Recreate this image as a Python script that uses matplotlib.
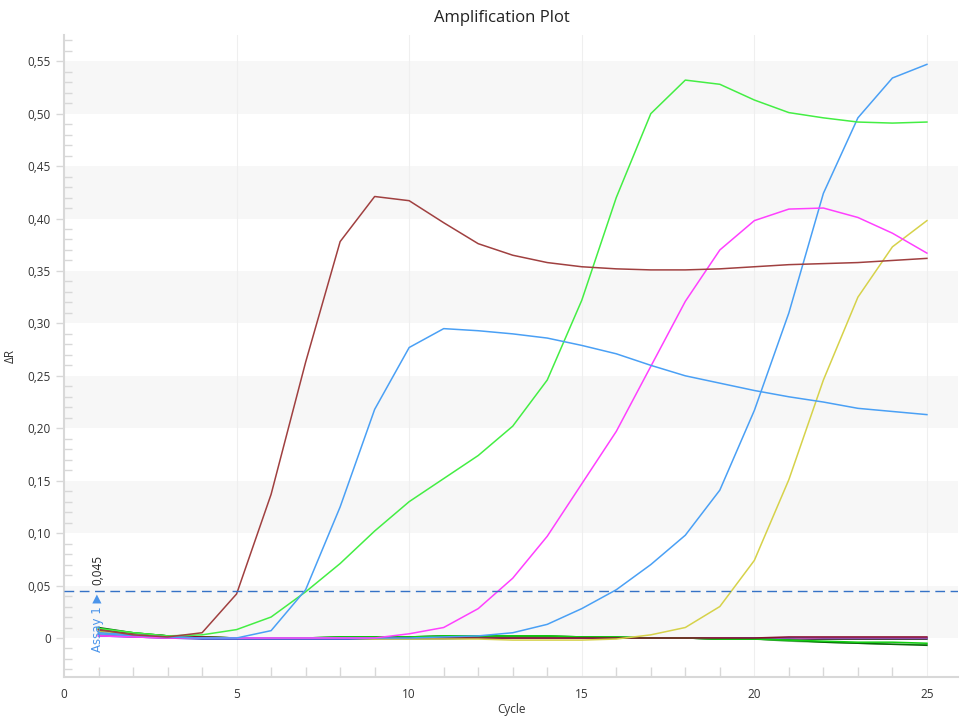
import matplotlib
matplotlib.use("Agg")
import matplotlib.pyplot as plt
from matplotlib.ticker import MultipleLocator, FuncFormatter

plt.rcParams['font.family'] = ['Open Sans', 'DejaVu Sans']

cycles = list(range(1, 26))

brown = [0.008, 0.003, 0.001, 0.005, 0.042, 0.137, 0.263, 0.378, 0.421, 0.417, 0.396, 0.376, 0.365,
         0.358, 0.354, 0.352, 0.351, 0.351, 0.352, 0.354, 0.356, 0.357, 0.358, 0.360, 0.362]
blue_early = [0.005, 0.003, 0.001, 0.000, 0.000, 0.007, 0.046, 0.125, 0.218, 0.277, 0.295, 0.293, 0.290,
              0.286, 0.279, 0.271, 0.260, 0.250, 0.243, 0.236, 0.230, 0.225, 0.219, 0.216, 0.213]
green = [0.009, 0.005, 0.002, 0.003, 0.008, 0.020, 0.044, 0.071, 0.102, 0.130, 0.152, 0.174, 0.202,
         0.246, 0.322, 0.420, 0.500, 0.532, 0.528, 0.513, 0.501, 0.496, 0.492, 0.491, 0.492]
magenta = [0.002, 0.001, 0.000, 0.000, 0.000, 0.000, 0.000, 0.000, 0.000, 0.004, 0.010, 0.028, 0.057,
           0.097, 0.147, 0.197, 0.259, 0.321, 0.370, 0.398, 0.409, 0.410, 0.401, 0.386, 0.367]
blue_late = [0.004, 0.002, 0.001, 0.000, 0.000, 0.000, 0.000, 0.000, 0.000, 0.000, 0.001, 0.002, 0.005,
             0.013, 0.028, 0.046, 0.070, 0.098, 0.141, 0.217, 0.310, 0.424, 0.496, 0.534, 0.547]
yellow = [0.006, 0.003, 0.001, 0.000, 0.000, 0.000, 0.000, 0.000, -0.001, -0.001, -0.001, -0.001, -0.002,
          -0.002, -0.002, -0.001, 0.003, 0.010, 0.030, 0.074, 0.151, 0.246, 0.325, 0.373, 0.398]

flat_maroon = [0.008, 0.004, 0.002, 0.001, 0.000, 0.000, 0.000, 0.000, 0.000, 0.000, 0.000, 0.000, 0.000,
               0.000, 0.000, 0.000, 0.000, 0.000, 0.000, 0.000, 0.001, 0.001, 0.001, 0.001, 0.001]
flat_darkgreen = [0.010, 0.005, 0.002, 0.001, 0.000, 0.000, 0.000, 0.001, 0.001, 0.001, 0.002, 0.002, 0.002,
                  0.002, 0.001, 0.001, 0.000, 0.000, -0.001, -0.001, -0.002, -0.004, -0.005, -0.006, -0.007]
flat_green = [0.009, 0.005, 0.002, 0.001, 0.000, 0.000, 0.000, 0.001, 0.001, 0.001, 0.002, 0.002, 0.002,
              0.002, 0.001, 0.001, 0.000, 0.000, -0.001, -0.001, -0.002, -0.003, -0.004, -0.004, -0.005]
flat_midgreen = [0.008, 0.004, 0.002, 0.001, 0.000, 0.000, 0.000, 0.000, 0.001, 0.001, 0.001, 0.001, 0.001,
                 0.001, 0.001, 0.000, 0.000, 0.000, -0.001, -0.001, -0.003, -0.004, -0.005, -0.006, -0.006]
flat_black = [0.006, 0.003, 0.001, 0.000, 0.000, 0.000, 0.000, 0.000, 0.000, 0.000, 0.000, 0.000, 0.000,
              0.000, 0.000, 0.000, 0.000, 0.000, -0.001, -0.001, -0.001, -0.001, -0.001, -0.001, -0.001]
flat_blue = [0.002, 0.001, 0.000, -0.001, -0.001, -0.001, -0.001, -0.001, -0.001, -0.001, -0.001, 0.000, 0.000,
             0.000, 0.000, 0.000, 0.000, 0.000, 0.000, 0.000, 0.000, 0.000, 0.000, 0.000, 0.000]
flat_purple = [0.003, 0.001, 0.000, 0.000, 0.000, 0.000, 0.000, 0.000, 0.000, 0.000, 0.000, 0.000, 0.000,
               0.000, 0.000, 0.000, 0.000, 0.000, 0.000, -0.001, -0.001, 0.000, 0.000, 0.000, 0.000]

threshold = 0.045

series = [
    (flat_black, '#1a1a1a'),
    (flat_blue, '#2a3fc0'),
    (flat_purple, '#b050b0'),
    (flat_midgreen, '#55b055'),
    (flat_darkgreen, '#0a6a0a'),
    (flat_green, '#11d011'),
    (flat_maroon, '#8a1030'),
    (yellow, '#d6d24a'),
    (blue_late, '#4aa0f5'),
    (magenta, '#ff40ff'),
    (green, '#44ee44'),
    (blue_early, '#4aa0f5'),
    (brown, '#a04040'),
]

fig = plt.figure(figsize=(9.6, 7.2), dpi=100)
ax = fig.add_axes([64/960, 1-677/720, (958-64)/960, (677-35)/720])

ylo, yhi = -0.0372, 0.575
ax.set_xlim(0, 25.9)
ax.set_ylim(ylo, yhi)

# alternating bands
for b in [0.0, 0.1, 0.2, 0.3, 0.4, 0.5]:
    ax.axhspan(b, b + 0.05, color='#f7f7f7', zorder=0, lw=0)

for xv in [5, 10, 15, 20, 25]:
    ax.axvline(xv, color='#efefef', lw=0.8, zorder=0.5)

for vals, col in series:
    ax.plot(cycles, vals, color=col, lw=1.1, zorder=2)

ax.axhline(threshold, color='#3572c6', lw=1.0, ls=(0, (7, 4)), zorder=3)
ax.text(0.97, threshold + 0.006, '0,045', rotation=90, ha='center', va='bottom',
        fontsize=8.5, color='#222222', zorder=4)
ax.text(0.97, threshold - 0.003, 'Assay 1 \u25B6', rotation=90, ha='center', va='top',
        fontsize=8.5, color='#4a94ea', zorder=4, family=['DejaVu Sans'])

for side in ['top', 'right']:
    ax.spines[side].set_visible(False)
for side in ['left', 'bottom']:
    ax.spines[side].set_color('#d8d8d8')
    ax.spines[side].set_linewidth(1.5)

ax.xaxis.set_major_locator(MultipleLocator(5))
ax.xaxis.set_minor_locator(MultipleLocator(1))
ax.yaxis.set_major_locator(MultipleLocator(0.05))
ax.yaxis.set_minor_locator(MultipleLocator(0.01))

def yfmt(v, p):
    if abs(v) < 1e-9:
        return '0'
    return ('%.2f' % v).replace('.', ',')

ax.yaxis.set_major_formatter(FuncFormatter(yfmt))
ax.xaxis.set_major_formatter(FuncFormatter(lambda v, p: '%d' % v))

ax.tick_params(axis='x', which='major', length=0, labelsize=8.5, colors='#333333', pad=8)
ax.tick_params(axis='x', which='minor', direction='in', length=7, color='#d8d8d8', width=1)
ax.tick_params(axis='y', which='major', direction='out', length=6, color='#d8d8d8', width=1,
               labelsize=8.5, labelcolor='#333333')
ax.tick_params(axis='y', which='minor', direction='in', length=6, color='#d8d8d8', width=1)

ax.set_xlabel('Cycle', fontsize=8.5, color='#333333', labelpad=1)
ax.set_ylabel('ΔR', fontsize=8.5, color='#333333', labelpad=8)
fig.text(0.523, 0.975, 'Amplification Plot', ha='center', va='center', fontsize=12, color='#222222')

fig.savefig('out.png', dpi=100)
